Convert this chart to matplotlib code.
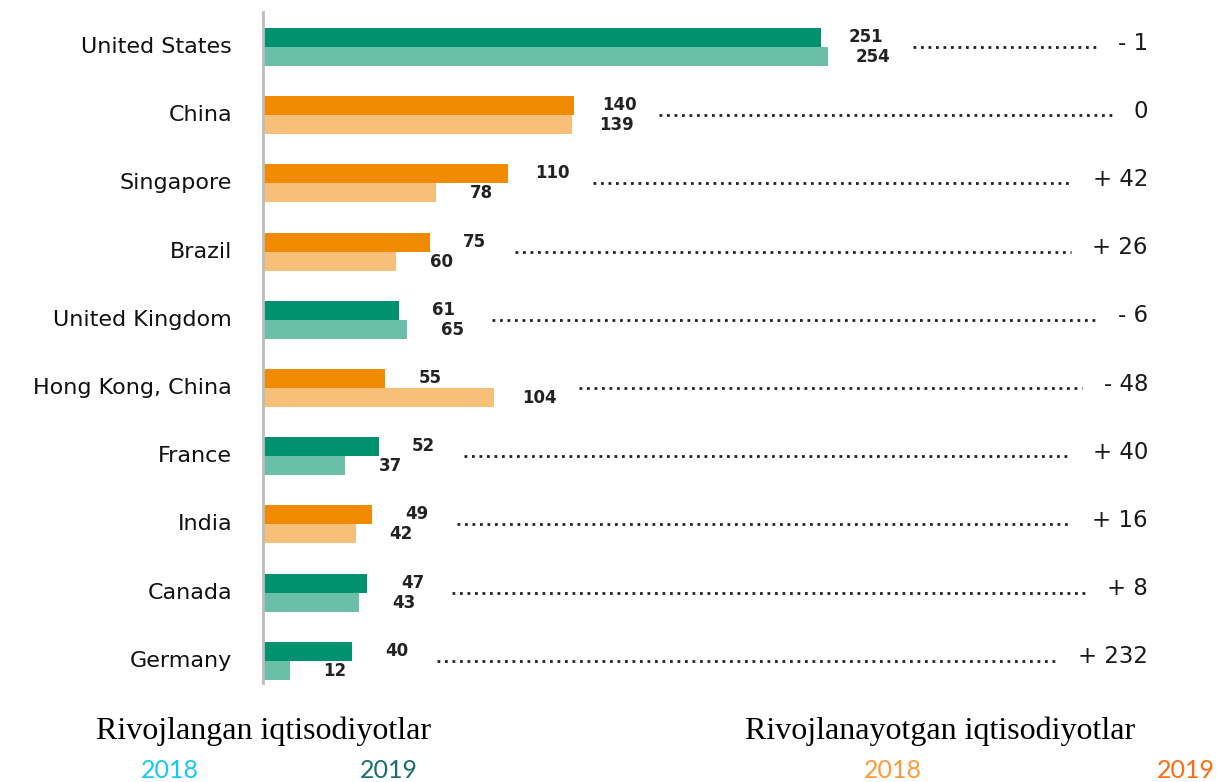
import matplotlib
matplotlib.use("Agg")
import matplotlib.pyplot as plt

countries = ["United States", "China", "Singapore", "Brazil", "United Kingdom",
             "Hong Kong, China", "France", "India", "Canada", "Germany"]
values_2019 = [251, 140, 110, 75, 61, 55, 52, 49, 47, 40]
values_2018 = [254, 139, 78, 60, 65, 104, 37, 42, 43, 12]
developed = [True, False, False, False, True, False, True, False, True, True]
change_labels = ["- 1", "0", "+ 42", "+ 26", "- 6", "- 48", "+ 40", "+ 16", "+ 8", "+ 232"]
group_labels = ["Rivojlangan iqtisodiyotlar", "Rivojlanayotgan iqtisodiyotlar"]
year_labels = ["2018", "2019", "2018", "2019"]

W, H = 1217, 782
PX = 2.223       # pixels per unit
X0 = 263         # pixel x of zero
Y0 = 47          # pixel y of first row
DY = 68.2        # pixel spacing of rows

fig = plt.figure(figsize=(W / 100, H / 100), dpi=100)
ax = fig.add_axes([0, 0, 1, 1])
ax.set_xlim(-X0 / PX, (W - X0) / PX)
ax.set_ylim((H - Y0) / DY, -Y0 / DY)
ax.axis("off")

def px2x(p):
    return (p - X0) / PX

def py2y(p):
    return (p - Y0) / DY

dark_green, light_green = "#00916E", "#6CBFA7"
dark_orange, light_orange = "#F08A00", "#F7BF78"

bh = 0.28
ypos = list(range(len(countries)))
c19 = [dark_green if d else dark_orange for d in developed]
c18 = [light_green if d else light_orange for d in developed]
ax.barh([y - bh / 2 for y in ypos], values_2019, height=bh, color=c19, zorder=2)
ax.barh([y + bh / 2 for y in ypos], values_2018, height=bh, color=c18, zorder=2)

# vertical axis line
ax.plot([0, 0], [py2y(12), py2y(683)], color="#BBBBBB", lw=2, zorder=3)

off = 45 / PX
diff_texts = []
for i, c in enumerate(countries):
    ax.text(px2x(232), i, c, ha="right", va="center", fontsize=16,
            family="DejaVu Sans", color="#111111")
    ax.text(values_2019[i] + off, i - 10 / DY, str(values_2019[i]), ha="center",
            va="center", fontsize=12, fontweight="bold", color="#222222")
    ax.text(values_2018[i] + off, i + 10 / DY, str(values_2018[i]), ha="center",
            va="center", fontsize=12, fontweight="bold", color="#222222")
    t = ax.text(px2x(1148), i - 4 / DY, change_labels[i], ha="right", va="center",
                fontsize=16.5, color="#1a1a1a")
    diff_texts.append(t)

fig.canvas.draw()
renderer = fig.canvas.get_renderer()
for i, t in enumerate(diff_texts):
    bb = t.get_window_extent(renderer)
    end_x = ax.transData.inverted().transform((bb.x0 - 22, 0))[0]
    start_x = max(values_2019[i], values_2018[i]) + 85 / PX
    ax.plot([start_x, end_x], [i, i], color="#222222", lw=2,
            linestyle=(0, (1, 1.7)), zorder=2)

# bottom group labels
fig.text(263.5 / W, 1 - 731 / H, group_labels[0], ha="center", va="center",
         fontsize=23, family="Liberation Serif", color="black")
fig.text(940 / W, 1 - 731 / H, group_labels[1], ha="center", va="center",
         fontsize=23, family="Liberation Serif", color="black")

year_x = [170, 389, 893, 1186]
year_colors = ["#14C8F5", "#17706C", "#FF9A3C", "#FF6A10"]
for x, lab, col in zip(year_x, year_labels, year_colors):
    fig.text(x / W, 1 - 771 / H, lab, ha="center", va="center", fontsize=18,
             family="Lato", color=col)

fig.savefig("out.png", dpi=100)
